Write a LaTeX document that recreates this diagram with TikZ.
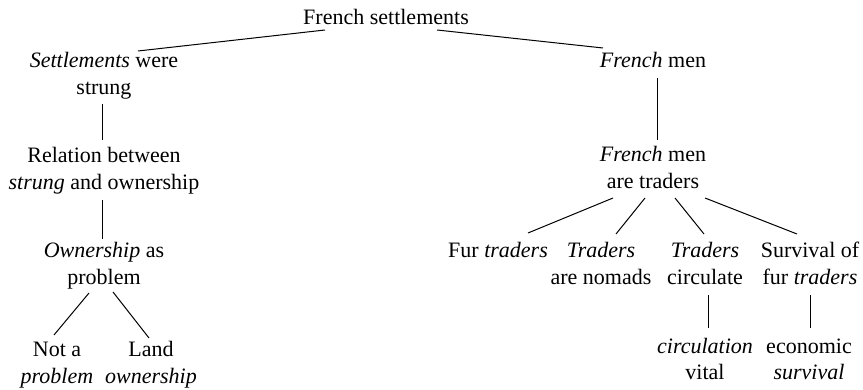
\documentclass[tikz,border=0pt]{standalone}
\usepackage{fontspec}
\setmainfont{Liberation Serif}
\usetikzlibrary{calc}
\tikzset{
  lbl/.style={font=\fontsize{22}{27}\selectfont, align=center, inner sep=0pt, anchor=base},
  edge/.style={line width=1pt}
}
\begin{document}
\begin{tikzpicture}[x=1pt,y=-1pt]
\useasboundingbox (0,0) rectangle (863,390);
\node[lbl] (root) at (386,25) {French settlements};
\node[lbl] (sw) at (104,95) {\emph{Settlements} were\\strung};
\node[lbl] (rel) at (104,190) {Relation between\\\emph{strung} and ownership};
\node[lbl] (own) at (104,285) {\emph{Ownership} as\\problem};
\node[lbl] (nap) at (57,383) {Not a\\\emph{problem}};
\node[lbl] (land) at (151,383) {Land\\\emph{ownership}};
\node[lbl] (fm) at (653,68) {\emph{French} men};
\node[lbl] (fmt) at (653,189) {\emph{French} men\\are traders};
\node[lbl] (fur) at (498,258) {Fur \emph{traders}};
\node[lbl] (nom) at (601,285) {\emph{Traders}\\are nomads};
\node[lbl] (circ) at (705,285) {\emph{Traders}\\circulate};
\node[lbl] (surv) at (810,285) {Survival of\\fur \emph{traders}};
\node[lbl] (cv) at (705,380) {\emph{circulation}\\vital};
\node[lbl] (es) at (809,380) {economic\\\emph{survival}};
\draw[edge] ($(root.base)+(-61,5)$) -- ($(sw.base)+(34,-44)$);
\draw[edge] ($(root.base)+(51,5)$) -- ($(fm.base)+(-50,-20)$);
\draw[edge] ($(sw.base)+(-2,9)$) -- ($(rel.base)+(-2,-50)$);
\draw[edge] ($(rel.base)+(-2,10)$) -- ($(own.base)+(-2,-46)$);
\draw[edge] ($(own.base)+(-15,8)$) -- ($(nap.base)+(-3,-48)$);
\draw[edge] ($(own.base)+(9,7)$) -- ($(land.base)+(-2,-45)$);
\draw[edge] ($(fm.base)+(4,10)$) -- ($(fmt.base)+(4,-49)$);
\draw[edge] ($(fmt.base)+(-40,9)$) -- ($(fur.base)+(30,-25)$);
\draw[edge] ($(fmt.base)+(-8,9)$) -- ($(nom.base)+(15,-51)$);
\draw[edge] ($(fmt.base)+(22,9)$) -- ($(circ.base)+(-1,-51)$);
\draw[edge] ($(fmt.base)+(52,9)$) -- ($(surv.base)+(-13,-51)$);
\draw[edge] ($(circ.base)+(3,10)$) -- ($(cv.base)+(3,-52)$);
\draw[edge] ($(surv.base)+(0,10)$) -- ($(es.base)+(1,-52)$);
\end{tikzpicture}
\end{document}
